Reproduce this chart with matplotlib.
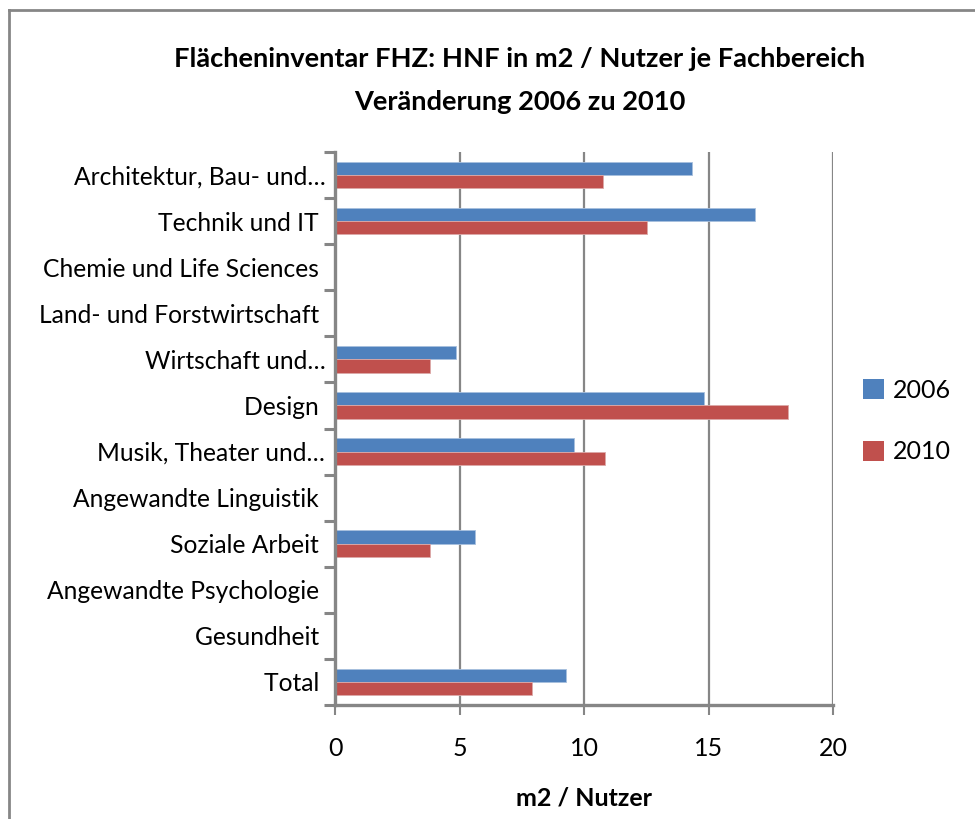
import numpy as np
import matplotlib
matplotlib.use("Agg")
import matplotlib.pyplot as plt
from matplotlib.lines import Line2D
from matplotlib.patches import Patch

plt.rcParams['font.family'] = ['Lato', 'DejaVu Sans']

# Fachbereiche (von oben nach unten)
fachbereiche = [
    "Architektur, Bau- und\u2026",
    "Technik und IT ",
    "Chemie und Life Sciences ",
    "Land- und Forstwirtschaft ",
    "Wirtschaft und\u2026",
    "Design ",
    "Musik, Theater und\u2026",
    "Angewandte Linguistik ",
    "Soziale Arbeit ",
    "Angewandte Psychologie ",
    "Gesundheit ",
    "Total ",
]
# HNF in m2 pro Nutzer (0 = keine Angabe)
hnf_2006 = [14.35, 16.88, 0, 0, 4.87, 14.83, 9.61, 0, 5.62, 0, 0, 9.29]
hnf_2010 = [10.75, 12.53, 0, 0, 3.83, 18.18, 10.84, 0, 3.83, 0, 0, 7.90]
jahre = ["2006", "2010"]
x_ticks = [0, 5, 10, 15, 20]

blau = "#4F81BD"
rot = "#C0504D"
grau = "#868686"

fig = plt.figure(figsize=(9.75, 8.19), dpi=100)
ax = fig.add_axes([0.3436, 0.1392, 0.8544 - 0.3436, 0.8144 - 0.1392])

y = np.arange(len(fachbereiche))
h = 0.29
ax.barh(y - h / 2, hnf_2006, height=h, color=blau, edgecolor="#a7bfde", linewidth=0.6)
ax.barh(y + h / 2, hnf_2010, height=h, color=rot, edgecolor="#dca9a8", linewidth=0.6)

ax.set_xlim(0, 20)
ax.set_ylim(len(fachbereiche) - 0.5, -0.5)
ax.set_xticks(x_ticks)
ax.set_xticklabels([str(t) for t in x_ticks], fontsize=18)
ax.set_yticks(y)
ax.set_yticklabels(fachbereiche, fontsize=17.7)
ax.set_yticks(np.arange(len(fachbereiche) + 1) - 0.5, minor=True)

ax.tick_params(axis="y", which="major", length=0, pad=7)
ax.tick_params(axis="y", which="minor", length=8, width=2.2, color=grau, direction="out")
ax.tick_params(axis="x", which="major", length=7, width=1.5, color=grau, direction="out", pad=16)

ax.grid(axis="x", color=grau, linewidth=1.6)
ax.set_axisbelow(True)
for side in ("top", "right"):
    ax.spines[side].set_visible(False)
for side in ("left", "bottom"):
    ax.spines[side].set_color(grau)
    ax.spines[side].set_linewidth(2.4)

ax.set_xlabel("m2 / Nutzer", fontsize=18, fontweight="bold", labelpad=19)

fig.text(0.533, 0.928, "Flächeninventar FHZ: HNF in m2 / Nutzer je Fachbereich",
         ha="center", va="center", fontsize=19.6, fontweight="bold")
fig.text(0.533, 0.876, "Veränderung 2006 zu 2010",
         ha="center", va="center", fontsize=19.6, fontweight="bold")

handles = [Patch(facecolor=blau), Patch(facecolor=rot)]
fig.legend(handles, jahre, loc="center left", bbox_to_anchor=(0.880, 0.486),
           frameon=False, fontsize=18, handlelength=0.85, handleheight=0.85,
           handletextpad=0.35, labelspacing=1.55, borderpad=0.2, borderaxespad=0)

# Rahmen des Diagrammbereichs
fig.add_artist(Line2D([0.0092, 1.0], [0.9872, 0.9872], transform=fig.transFigure,
                      color=grau, linewidth=2))
fig.add_artist(Line2D([0.0092, 0.0092], [0.0, 0.9872], transform=fig.transFigure,
                      color=grau, linewidth=2))

fig.savefig("out.png", dpi=100, facecolor="white")
